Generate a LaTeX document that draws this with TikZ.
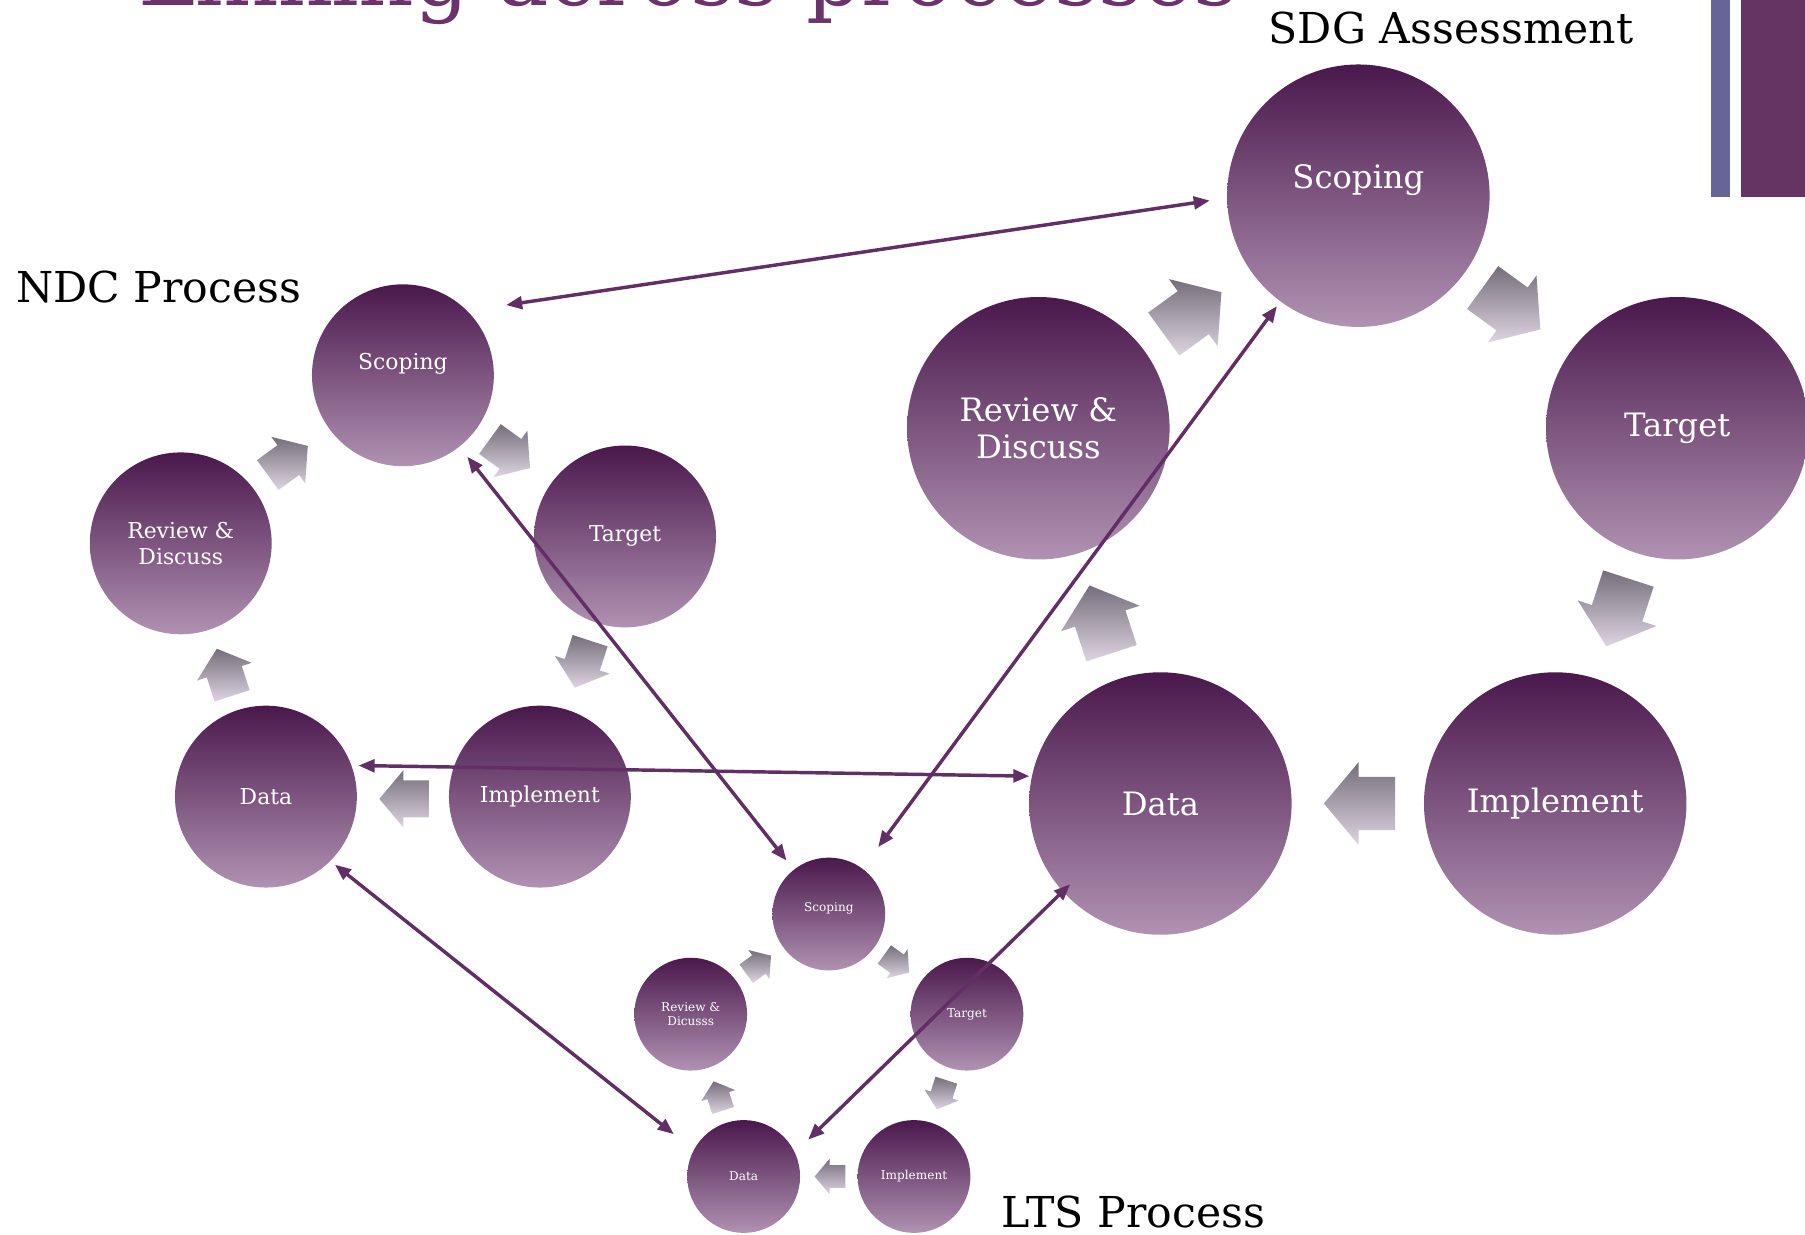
\documentclass[tikz,border=0pt]{standalone}
\usepackage{fontspec}
\setmainfont{DejaVu Serif}
\usetikzlibrary{arrows.meta}
\definecolor{ringtop}{RGB}{74,24,76}
\definecolor{ringbot}{RGB}{176,146,178}
\definecolor{flowtop}{RGB}{118,110,122}
\definecolor{flowbot}{RGB}{222,212,226}
\definecolor{linkcol}{RGB}{98,46,102}
\definecolor{titlecol}{RGB}{107,50,107}
\definecolor{barblue}{RGB}{100,103,150}
\definecolor{barpurple}{RGB}{101,52,98}
\tikzset{
  stage/.style={circle, inner sep=0pt, text=white, align=center, top color=ringtop, bottom color=ringbot},
  ndc/.style={stage, minimum size=158pt, font=\fontsize{19}{23}\selectfont},
  sdg/.style={stage, minimum size=228pt, font=\fontsize{28}{32}\selectfont},
  lts/.style={stage, minimum size=98pt, font=\fontsize{10.5}{12}\selectfont},
  flow/.style={top color=flowtop, bottom color=flowbot},
  at flow/.style n args={4}{shift={(#1,#2)}, rotate=#3, scale=#4},
  heading/.style={anchor=base west, inner sep=0pt, font=\fontsize{37}{40}\selectfont},
  link/.style={draw=linkcol, line width=3pt, {Triangle[length=14pt,width=11pt]}-{Triangle[length=14pt,width=11pt]}}
}
% block arrow: centre x, centre y, direction, size
\newcommand{\flowarrow}[4]{%
  \tikzset{fp/.style={at flow={#1}{#2}{#3}{#4}}}%
  \shade[flow] ([fp]-21.5,16) -- ([fp]0.5,16) -- ([fp]0.5,25) -- ([fp]21.5,0)
    -- ([fp]0.5,-25) -- ([fp]0.5,-16) -- ([fp]-21.5,-16) -- cycle;}
\begin{document}
\begin{tikzpicture}[x=1pt,y=1pt]
\useasboundingbox (0,0) rectangle (1568,-1072);
\clip (0,0) rectangle (1568,-1072);
\node[anchor=base west, inner sep=0pt, text=titlecol, font=\fontsize{75}{80}\selectfont] (title) at (120,-5) {Linking across processes};
\fill[barblue] (1486,0) rectangle (1503,-171);
\fill[barpurple] (1512,0) rectangle (1568,-171);

% NDC process
\node[heading] (ndclabel) at (14,-263) {NDC Process};
\node[ndc] (ndc0) at (350,-326) {\raisebox{24pt}{Scoping}};
\node[ndc] (ndc1) at (543,-466) {Target};
\node[ndc] (ndc2) at (469,-692) {Implement};
\node[ndc] (ndc3) at (231,-692) {Data};
\node[ndc] (ndc4) at (157,-472) {Review \&\\Discuss};
\flowarrow{443}{-394}{-36}{1}
\flowarrow{506}{-577}{-108}{1}
\flowarrow{351}{-694}{180}{1}
\flowarrow{195}{-584}{108}{1}
\flowarrow{250}{-400}{36}{1}

% SDG assessment
\node[heading] (sdglabel) at (1102,-38) {SDG Assessment};
\node[sdg] (sdg0) at (1180,-170) {\raisebox{34pt}{Scoping}};
\node[sdg] (sdg1) at (1457,-372) {Target};
\node[sdg] (sdg2) at (1351,-698) {Implement};
\node[sdg] (sdg3) at (1008,-698) {Data};
\node[sdg] (sdg4) at (902,-372) {Review \&\\Discuss};
\flowarrow{1313}{-268}{-36}{1.44}
\flowarrow{1405}{-532}{-108}{1.44}
\flowarrow{1181}{-698}{180}{1.44}
\flowarrow{956}{-538}{108}{1.44}
\flowarrow{1036}{-272}{36}{1.44}

% LTS process
\node[heading] (ltslabel) at (870,-1066) {LTS Process};
\node[lts] (lts0) at (720,-794) {\raisebox{12pt}{Scoping}};
\node[lts] (lts1) at (840,-881) {Target};
\node[lts] (lts2) at (794,-1022) {Implement};
\node[lts] (lts3) at (646,-1022) {Data};
\node[lts] (lts4) at (600,-881) {Review \&\\Dicusss};
\flowarrow{779}{-837}{-36}{0.62}
\flowarrow{818}{-951}{-108}{0.62}
\flowarrow{721}{-1022}{180}{0.62}
\flowarrow{624}{-952}{108}{0.62}
\flowarrow{659}{-838}{36}{0.62}

% links between the processes
\draw[link, shorten <=34pt, shorten >=15pt] (ndc0.45) -- (sdg0.181);
\draw[link, shorten <=11pt, shorten >=10pt] (ndc0) -- (lts0);
\draw[link, shorten <=5pt, shorten >=23pt] (sdg0) -- (lts0);
\draw[link, shorten <=6pt, shorten >=2pt] (ndc3.20) -- (sdg3.168);
\draw[link, shorten <=5pt, shorten >=22pt] (ndc3.-45) -- (lts3.152);
\draw[link, shorten <=16pt, shorten >=-9pt] (lts3.25) -- (sdg3.222);
\end{tikzpicture}
\end{document}
